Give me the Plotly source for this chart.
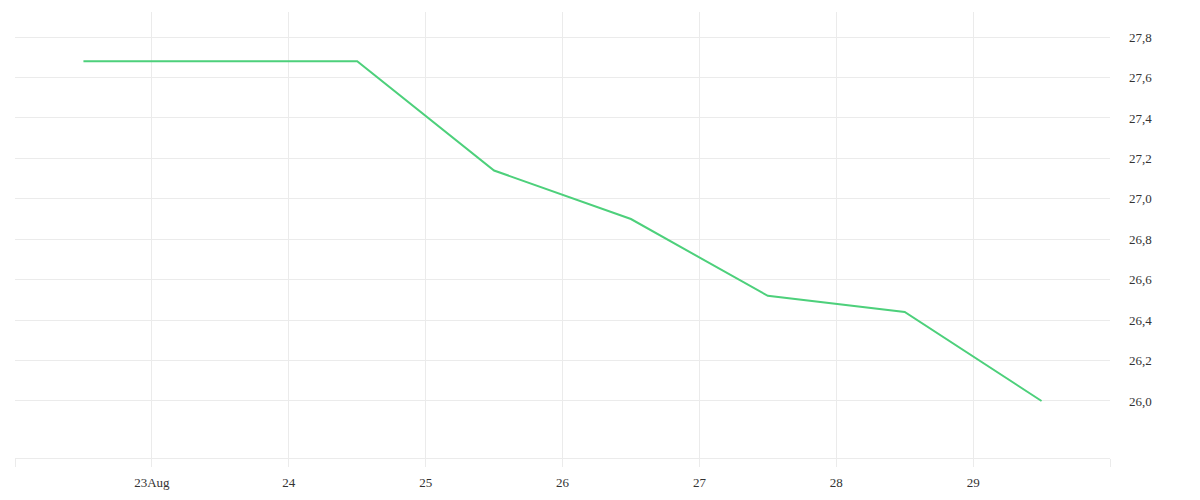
import plotly.graph_objects as go

dates = ["2023-08-22 12:00", "2023-08-23 12:00", "2023-08-24 12:00", "2023-08-25 12:00",
         "2023-08-26 12:00", "2023-08-27 12:00", "2023-08-28 12:00", "2023-08-29 12:00"]
values = [27.68, 27.68, 27.68, 27.14, 26.90, 26.52, 26.44, 26.00]

tick_dates = ["2023-08-22", "2023-08-23", "2023-08-24", "2023-08-25", "2023-08-26",
              "2023-08-27", "2023-08-28", "2023-08-29", "2023-08-30"]
tick_text = ["", "23Aug", "24", "25", "26", "27", "28", "29", ""]

y_ticks = [26.0, 26.2, 26.4, 26.6, 26.8, 27.0, 27.2, 27.4, 27.6, 27.8]

fig = go.Figure()
fig.add_trace(go.Scatter(x=dates, y=values, mode="lines",
                         line=dict(color="#4dd07b", width=2), showlegend=False))

grid = "#ebebeb"
fig.update_layout(
    width=1200, height=500,
    margin=dict(l=7, r=98, t=4, b=50),
    paper_bgcolor="white", plot_bgcolor="white",
    separators=",.",
    font=dict(family="Liberation Serif", size=13, color="#333333"),
    xaxis=dict(
        range=["2023-08-22", "2023-08-30"],
        tickvals=tick_dates, ticktext=tick_text,
        showgrid=True, gridcolor=grid, gridwidth=1,
        ticks="outside", ticklen=8, tickcolor=grid, tickwidth=1,
        ticklabelstandoff=4,
        showline=True, linecolor=grid, linewidth=1,
        zeroline=False,
    ),
    yaxis=dict(
        side="right",
        range=[25.718, 27.924],
        tickvals=y_ticks, tickformat=".1f",
        showgrid=True, gridcolor=grid, gridwidth=1,
        ticks="", ticklabelstandoff=18,
        showline=False, zeroline=False,
    ),
)

fig.write_html("out.html")
